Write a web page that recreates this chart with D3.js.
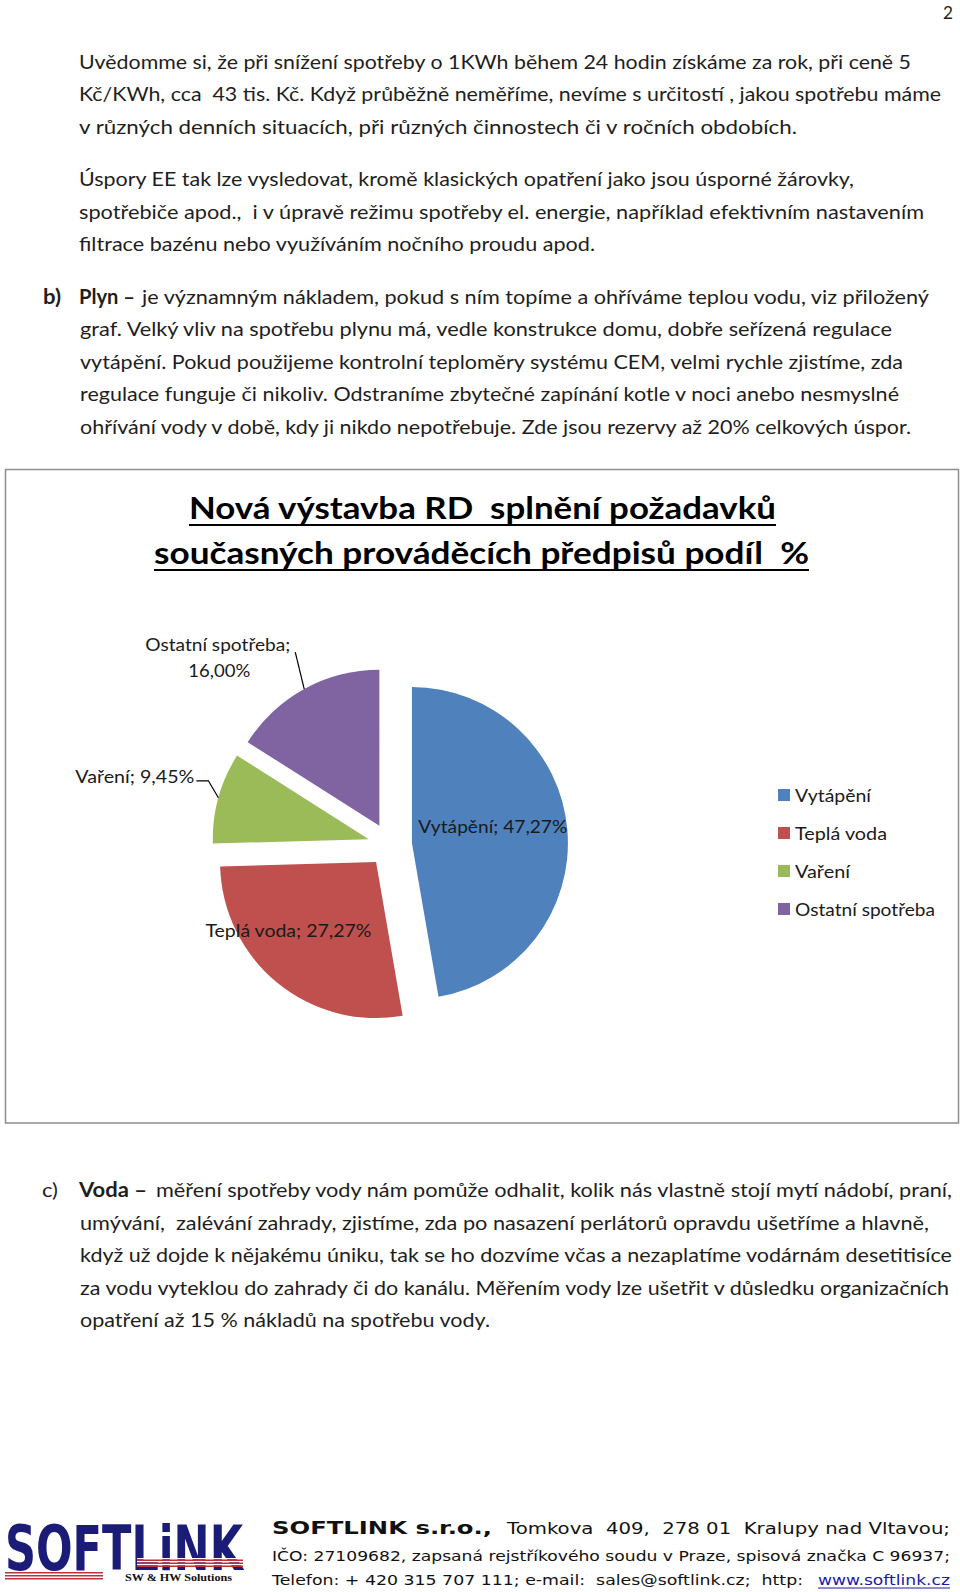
<!DOCTYPE html>
<html>
<head>
<meta charset="utf-8">
<script src="https://cdn.jsdelivr.net/npm/d3@7"></script>
<style>
  body { margin: 0; background: #fff; }
  text { white-space: pre; }
</style>
</head>
<body>
<script>
// chart data
let categories = ["Vytápění", "Teplá voda", "Vaření", "Ostatní spotřeba"]
let shares = [47.27, 27.27, 9.45, 16.00]
let colors = ["#4f81bd", "#c0504d", "#9bbb59", "#8064a2"]
let chartTitle = ["Nová výstavba RD  splnění požadavků", "současných prováděcích předpisů podíl  %"]

// page text
let textTop = [
  "Uvědomme si, že při snížení spotřeby o 1KWh během 24 hodin získáme za rok, při ceně 5",
  "Kč/KWh, cca  43 tis. Kč. Když průběžně neměříme, nevíme s určitostí , jakou spotřebu máme",
  "v různých denních situacích, při různých činnostech či v ročních obdobích.",
  "Úspory EE tak lze vysledovat, kromě klasických opatření jako jsou úsporné žárovky,",
  "spotřebiče apod.,  i v úpravě režimu spotřeby el. energie, například efektivním nastavením",
  "filtrace bazénu nebo využíváním nočního proudu apod."
]
let textPlyn = [
  "je významným nákladem, pokud s ním topíme a ohříváme teplou vodu, viz přiložený",
  "graf. Velký vliv na spotřebu plynu má, vedle konstrukce domu, dobře seřízená regulace",
  "vytápění. Pokud použijeme kontrolní teploměry systému CEM, velmi rychle zjistíme, zda",
  "regulace funguje či nikoliv. Odstraníme zbytečné zapínání kotle v noci anebo nesmyslné",
  "ohřívání vody v době, kdy ji nikdo nepotřebuje. Zde jsou rezervy až 20% celkových úspor."
]
let textVoda = [
  "měření spotřeby vody nám pomůže odhalit, kolik nás vlastně stojí mytí nádobí, praní,",
  "umývání,  zalévání zahrady, zjistíme, zda po nasazení perlátorů opravdu ušetříme a hlavně,",
  "když už dojde k nějakému úniku, tak se ho dozvíme včas a nezaplatíme vodárnám desetitisíce",
  "za vodu vyteklou do zahrady či do kanálu. Měřením vody lze ušetřit v důsledku organizačních",
  "opatření až 15 % nákladů na spotřebu vody."
]
let footer = [
  "SOFTLINK s.r.o.,",
  "Tomkova  409,  278 01  Kralupy nad Vltavou;",
  "IČO: 27109682, zapsaná rejstříkového soudu v Praze, spisová značka C 96937;",
  "Telefon: + 420 315 707 111; e-mail:  sales@softlink.cz;  http:",
  "www.softlink.cz"
]

// layout: [x, baseline, width]
let topPos = [[79, 68.5, 832], [79, 101, 862], [79, 133.5, 718], [79, 186, 775], [79, 218.5, 845], [79, 251, 516]]
let plynPos = [[142, 303.5, 787], [80, 336, 812], [80, 368.5, 823], [80, 401, 819], [80, 433.5, 831]]
let vodaPos = [[156, 1197, 796], [80, 1229.5, 849], [80, 1262, 872], [80, 1294.5, 869], [80, 1327, 410]]

let body = d3.select("body")
let svg = body.append("svg")
  .attr("width", 960)
  .attr("height", 1592)
  .style("display", "block")

svg.append("rect").attr("width", 960).attr("height", 1592).attr("fill", "#fff")

const bodyFont = "Lato, 'Open Sans', sans-serif"

function line(g, txt, x, y, w, size, weight, family, fill) {
  let t = g.append("text")
    .attr("x", x)
    .attr("y", y)
    .attr("font-family", family || bodyFont)
    .attr("font-size", size)
    .attr("font-weight", weight || "normal")
    .attr("fill", fill || "#1e1e1e")
    .text(txt)
  if (w) t.attr("textLength", w).attr("lengthAdjust", "spacingAndGlyphs")
  return t
}

// page number
line(svg, "2", 943, 19, 10, 18)

textTop.forEach((s, i) => line(svg, s, topPos[i][0], topPos[i][1], topPos[i][2], 20))
line(svg, "b)", 43, 303.5, 18, 20, "bold")
line(svg, "Plyn –", 79, 303.5, 56, 20, "bold")
textPlyn.forEach((s, i) => line(svg, s, plynPos[i][0], plynPos[i][1], plynPos[i][2], 20))
line(svg, "c)", 42, 1197, 16, 20)
line(svg, "Voda –", 79, 1197, 68, 20, "bold")
textVoda.forEach((s, i) => line(svg, s, vodaPos[i][0], vodaPos[i][1], vodaPos[i][2], 20))

// chart box
let chart = svg.append("g")
chart.append("rect")
  .attr("x", 5.5).attr("y", 469.5)
  .attr("width", 953).attr("height", 653.5)
  .attr("fill", "#fff")
  .attr("stroke", "#8e8e8e")
  .attr("stroke-width", 1.5)

let titlePos = [[189, 519, 587], [154, 564, 655]]
chartTitle.forEach((s, i) => {
  line(chart, s, titlePos[i][0], titlePos[i][1], titlePos[i][2], 31, "bold", bodyFont, "#000")
  chart.append("line")
    .attr("x1", titlePos[i][0]).attr("x2", titlePos[i][0] + titlePos[i][2])
    .attr("y1", titlePos[i][1] + 6).attr("y2", titlePos[i][1] + 6)
    .attr("stroke", "#000").attr("stroke-width", 2)
})

// pie
let cx = 390, cy = 845, radius = 156, explode = 22
let pie = d3.pie().sort(null).value(d => d)
let arcs = pie(shares)
let arc = d3.arc().innerRadius(0).outerRadius(radius)
let mid = d => (d.startAngle + d.endAngle) / 2
let polar = (a, r) => [Math.sin(a) * r, -Math.cos(a) * r]
let apex = d => {
  let o = polar(mid(d), explode)
  return [cx + o[0], cy + o[1]]
}

chart.selectAll(".slice")
  .data(arcs)
  .enter()
  .append("path")
  .attr("class", "slice")
  .attr("transform", d => "translate(" + apex(d) + ")")
  .attr("d", arc)
  .attr("fill", (d, i) => colors[i])

let fmt = v => d3.format(".2f")(v).replace(".", ",") + "%"

// label placement: point on radius r along slice middle, then shift
let labelLayout = [
  { r: 156, dx: -149, dy: 3.5, w: [149] },
  { r: 110, dx: -101, dy: -10, w: [166] },
  { r: 156, dx: -143, dy: -15, w: [119], leader: [[-10, -17], [-22, -17]] },
  { r: 156, dx: -159, dy: -38, w: [145, 62], lineDx: [0, 43], leader: [[-9, -37]] }
]

arcs.forEach((d, i) => {
  let L = labelLayout[i]
  let a = apex(d)
  let p = polar(mid(d), L.r)
  let px = a[0] + p[0], py = a[1] + p[1]
  if (L.leader) {
    let pts = [[px, py]].concat(L.leader.map(q => [px + q[0], py + q[1]]))
    chart.append("path")
      .attr("d", d3.line()(pts))
      .attr("fill", "none")
      .attr("stroke", "#000")
      .attr("stroke-width", 1.2)
  }
  let parts = i == 3
    ? [categories[i] + ";", fmt(shares[i])]
    : [categories[i] + "; " + fmt(shares[i])]
  parts.forEach((s, k) => {
    let x = px + L.dx + (L.lineDx ? L.lineDx[k] : 0)
    line(chart, s, x, py + L.dy + k * 26, L.w[k], 17, "normal", bodyFont, "#1a1a1a")
  })
})

// legend
let legendW = [76, 92, 55, 140]
let legend = chart.selectAll(".legend")
  .data(categories)
  .enter()
  .append("g")
  .attr("class", "legend")
  .attr("transform", (d, i) => "translate(778," + (789 + i * 38) + ")")
legend.append("rect")
  .attr("width", 12).attr("height", 12)
  .attr("fill", (d, i) => colors[i])
legend.each(function(d, i) {
  line(d3.select(this), d, 17, 12.5, legendW[i], 17, "normal", bodyFont, "#1a1a1a")
})

// footer
let foot = svg.append("g")
const footFont = "'DejaVu Sans', Verdana, sans-serif"
line(foot, footer[0], 272, 1534, 220, 18, "bold", footFont, "#111")
line(foot, footer[1], 507, 1534, 443, 16, "normal", footFont, "#111")
line(foot, footer[2], 272, 1561, 678, 14, "normal", footFont, "#111")
line(foot, footer[3], 272, 1585, 531, 14, "normal", footFont, "#111")
line(foot, footer[4], 818, 1585, 132, 14, "normal", footFont, "#1a1aa8")
foot.append("line")
  .attr("x1", 818).attr("x2", 950)
  .attr("y1", 1588).attr("y2", 1588)
  .attr("stroke", "#1a1aa8").attr("stroke-width", 1)

// logo, drawn at a small size and stretched up so its box stays narrow
let logo = svg.append("g")
let mark = logo.append("g").attr("transform", "translate(5,1570) scale(1,1.55)")
line(mark, "SOFTLiNK", 0, 0, 238, 40, "900", "'DejaVu Sans', Arial, sans-serif", "#1b1b78")
let stripes = [0, 3, 6]
stripes.forEach(s => {
  logo.append("rect").attr("x", 137).attr("y", 1558 + s).attr("width", 106).attr("height", 1.3).attr("fill", "#fff")
  logo.append("rect").attr("x", 137).attr("y", 1559.5 + s).attr("width", 106).attr("height", 1.5).attr("fill", "#b8343a")
  logo.append("rect").attr("x", 5).attr("y", 1572 + s).attr("width", 98).attr("height", 1.5).attr("fill", "#b8343a")
})
line(logo, "SW & HW Solutions", 125, 1581, 107, 11, "bold", "'Liberation Serif', 'DejaVu Serif', serif", "#111")
</script>
</body>
</html>
